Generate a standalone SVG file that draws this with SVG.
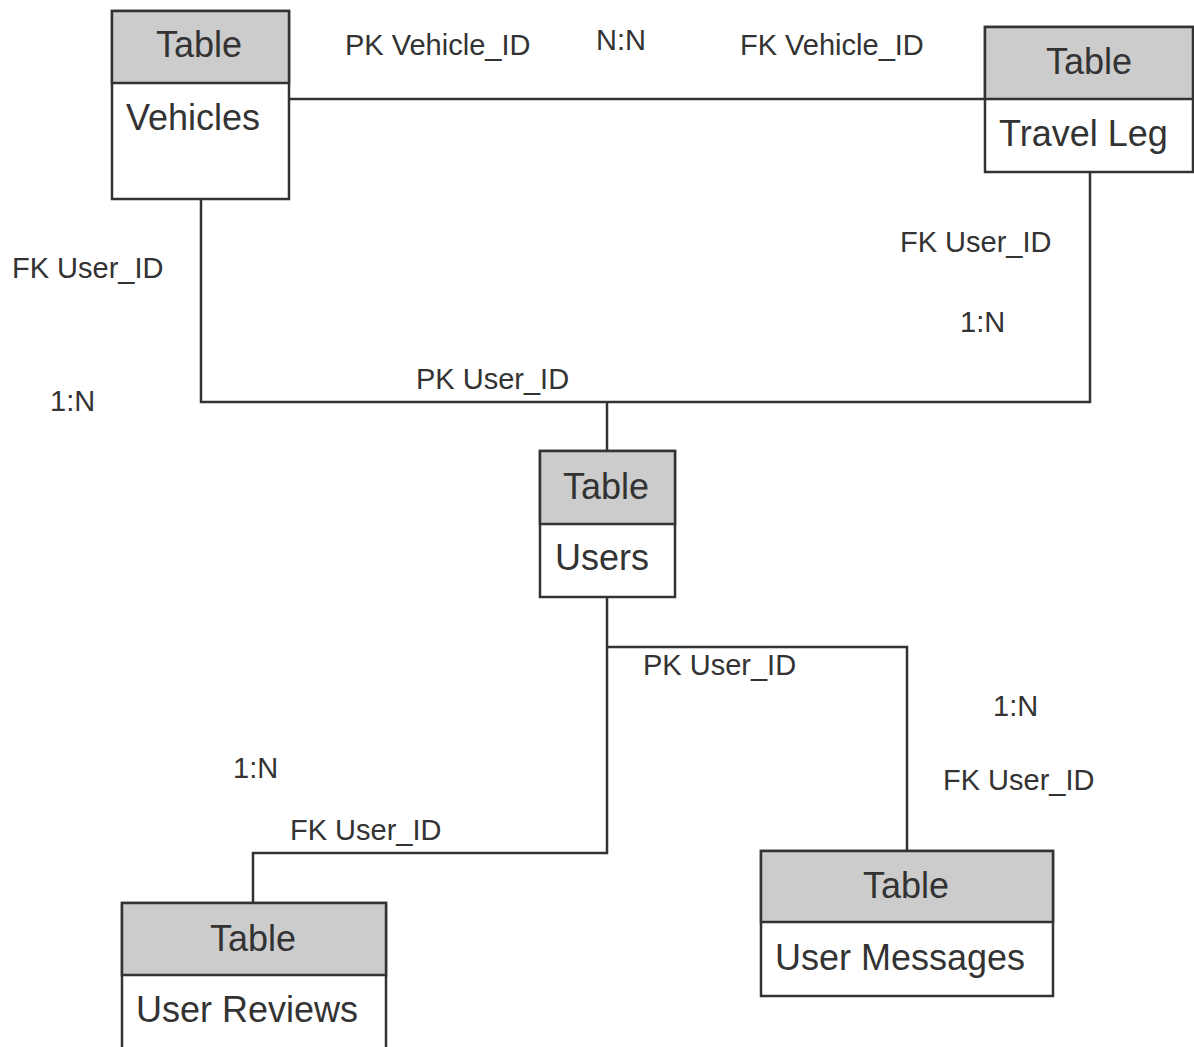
<svg xmlns="http://www.w3.org/2000/svg" width="1194" height="1047" viewBox="0 0 1194 1047">
<style>
.box{fill:#fff;stroke:#333;stroke-width:2.5}
.hdr{fill:#cccccc;stroke:#333;stroke-width:2.5}
.conn{fill:none;stroke:#333;stroke-width:2.5}
.t{font-family:"Liberation Sans",Arial,sans-serif;font-size:36px;fill:#333}
.lbl{font-family:"Liberation Sans",Arial,sans-serif;font-size:29px;fill:#333}
</style>
<rect width="1194" height="1047" fill="#fff"/>
<g id="connectors">
<path class="conn" d="M289 99 H985"/>
<path class="conn" d="M201 199 V402 H1090 V172"/>
<path class="conn" d="M607 402 V451"/>
<path class="conn" d="M607 597 V853 H253 V903"/>
<path class="conn" d="M607 647 H907 V851"/>
</g>
<g id="labels">
<text class="lbl" x="345" y="55">PK Vehicle_ID</text>
<text class="lbl" x="596" y="50">N:N</text>
<text class="lbl" x="740" y="55">FK Vehicle_ID</text>
<text class="lbl" x="12" y="278">FK User_ID</text>
<text class="lbl" x="50" y="411">1:N</text>
<text class="lbl" x="416" y="389">PK User_ID</text>
<text class="lbl" x="900" y="252">FK User_ID</text>
<text class="lbl" x="960" y="332">1:N</text>
<text class="lbl" x="643" y="675">PK User_ID</text>
<text class="lbl" x="993" y="716">1:N</text>
<text class="lbl" x="943" y="790">FK User_ID</text>
<text class="lbl" x="233" y="778">1:N</text>
<text class="lbl" x="290" y="840">FK User_ID</text>
</g>
<g id="vehicles">
<rect class="box" x="112" y="11" width="177" height="188"/>
<rect class="hdr" x="112" y="11" width="177" height="72"/>
<text class="t" x="199" y="57" text-anchor="middle">Table</text>
<text class="t" x="126" y="130">Vehicles</text>
</g>
<g id="travel-leg">
<rect class="box" x="985" y="27" width="208" height="145"/>
<rect class="hdr" x="985" y="27" width="208" height="72"/>
<text class="t" x="1089" y="74" text-anchor="middle">Table</text>
<text class="t" x="999" y="146">Travel Leg</text>
</g>
<g id="users">
<rect class="box" x="540" y="451" width="135" height="146"/>
<rect class="hdr" x="540" y="451" width="135" height="73"/>
<text class="t" x="606" y="499" text-anchor="middle">Table</text>
<text class="t" x="555" y="570">Users</text>
</g>
<g id="user-reviews">
<rect class="box" x="122" y="903" width="264" height="160"/>
<rect class="hdr" x="122" y="903" width="264" height="72"/>
<text class="t" x="253" y="951" text-anchor="middle">Table</text>
<text class="t" x="136" y="1022">User Reviews</text>
</g>
<g id="user-messages">
<rect class="box" x="761" y="851" width="292" height="145"/>
<rect class="hdr" x="761" y="851" width="292" height="71"/>
<text class="t" x="906" y="898" text-anchor="middle">Table</text>
<text class="t" x="775" y="970">User Messages</text>
</g>
</svg>
